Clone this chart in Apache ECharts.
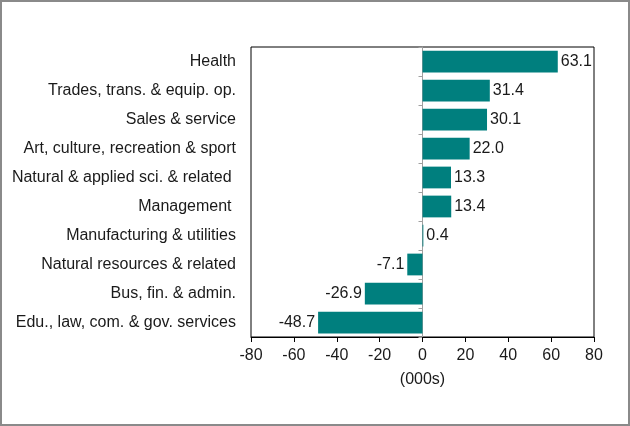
<!DOCTYPE html>
<html><head><meta charset="utf-8">
<script src="https://cdn.jsdelivr.net/npm/echarts@6/dist/echarts.min.js"></script>
<style>html,body{margin:0;padding:0;background:#fff}#c{width:630px;height:426px}</style>
</head><body><div id="c"></div>
<script>
const categories = ["Health","Trades, trans. & equip. op.","Sales & service","Art, culture, recreation & sport","Natural & applied sci. & related ","Management ","Manufacturing & utilities","Natural resources & related","Bus, fin. & admin.","Edu., law, com. & gov. services"];
const values = [63.1,31.4,30.1,22.0,13.3,13.4,0.4,-7.1,-26.9,-48.7];
const xTicks = [-80,-60,-40,-20,0,20,40,60,80];
const axisName = "(000s)";

const font = "Liberation Sans, Arial, sans-serif";
const chart = echarts.init(document.getElementById('c'), null, {renderer:'canvas'});
chart.setOption({
  animation:false,
  backgroundColor:'#fff',
  graphic:[{type:'rect',shape:{x:1,y:1,width:628,height:424},style:{fill:'none',stroke:'#8a8a8a',lineWidth:2},silent:true}],
  grid:{left:251,right:36,top:47,bottom:89,show:true,borderColor:'#000',borderWidth:1,backgroundColor:'transparent'},
  xAxis:{type:'value',min:xTicks[0],max:xTicks[xTicks.length-1],interval:20,
    name:axisName,nameLocation:'middle',nameGap:35,nameTextStyle:{fontFamily:font,fontSize:16,color:'#1a1a1a'},
    splitLine:{show:false},
    axisLine:{show:true,onZero:false,lineStyle:{color:'#000'}},
    axisTick:{show:true,length:5,lineStyle:{color:'#000'}},
    axisLabel:{fontFamily:font,fontSize:16,color:'#1a1a1a',margin:11}},
  yAxis:[
    {type:'category',data:categories,inverse:true,
     axisLine:{show:false,onZero:false},axisTick:{show:false},
     axisLabel:{fontFamily:font,fontSize:16,color:'#1a1a1a',margin:15}},
    {type:'category',data:categories,inverse:true,position:'left',
     axisLine:{show:true,onZero:true,lineStyle:{color:'#a0a0a0'}},
     axisTick:{show:true,length:4,lineStyle:{color:'#a0a0a0'}},
     axisLabel:{show:false}}
  ],
  series:[{type:'bar',yAxisIndex:0,barCategoryGap:'25%',
    itemStyle:{color:'#007f7e'},
    data:values.map(v=>({value:v,label:{position:v<0?'left':'right'}})),
    label:{show:true,fontFamily:font,fontSize:16,color:'#1a1a1a',distance:3,
      formatter:p=>p.value.toFixed(1)}}]
});
</script></body></html>
